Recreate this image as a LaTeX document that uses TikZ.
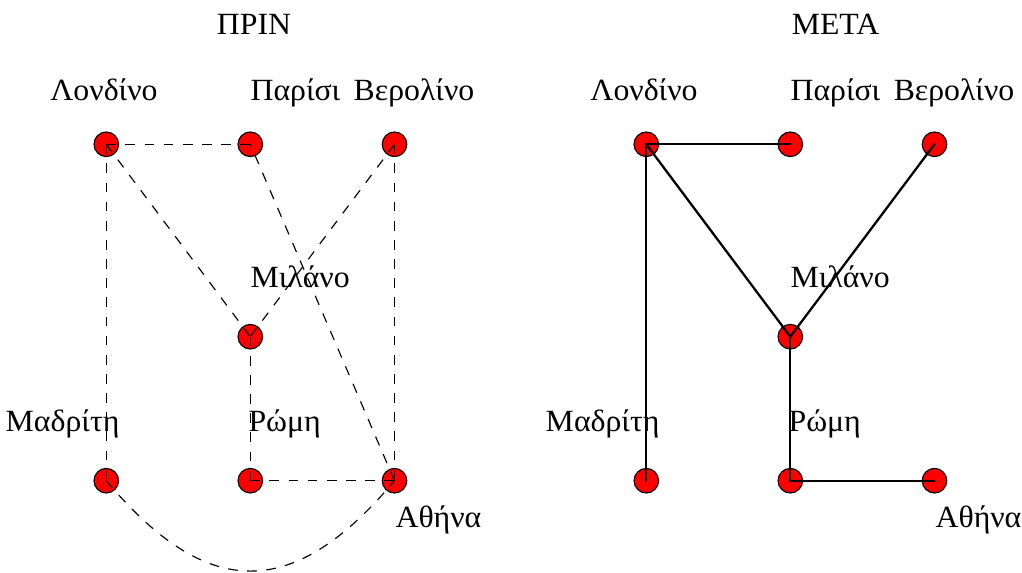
\documentclass[tikz,border=0pt]{standalone}
\usepackage{fontspec}
\setmainfont{Liberation Serif}[FakeStretch=1.03]
\begin{document}
\begin{tikzpicture}[x=0.35pt,y=0.35pt,
  city/.style={circle,draw=black,fill=red,line width=0.4pt,minimum size=8.6pt,inner sep=0pt},
  lbl/.style={inner sep=0pt,font=\fontsize{10.8}{12}\selectfont},
  before/.style={line width=0.4pt,dash pattern=on 3.4pt off 3.3pt},
  after/.style={line width=0.8pt,line cap=round}]
\useasboundingbox (0,0) rectangle (1022,-573);
% ---------- left graph (before)
\node[lbl,anchor=base] (t1) at (254,-35) {ΠΡΙΝ};
\node[city] (L1) at (106.3,-144.3) {};
\node[city] (P1) at (250.3,-144.3) {};
\node[city] (B1) at (394.5,-144.3) {};
\node[city] (Mi1) at (250.3,-336.7) {};
\node[city] (Ma1) at (106.3,-480.7) {};
\node[city] (R1) at (250.3,-480.7) {};
\node[city] (A1) at (394.5,-480.7) {};
\node[lbl,anchor=base] (lL1) at (104,-100.5) {Λονδίνο};
\node[lbl,anchor=base west] (lP1) at (250,-100.5) {Παρίσι};
\node[lbl,anchor=base] (lB1) at (414,-100.5) {Βερολίνο};
\node[lbl,anchor=base west] (lMi1) at (250,-288) {Μιλάνο};
\node[lbl,anchor=base east] (lMa1) at (120,-432) {Μαδρίτη};
\node[lbl,anchor=base west] (lR1) at (248,-432) {Ρώμη};
\node[lbl,anchor=base west] (lA1) at (395,-527.5) {Αθήνα};
\draw[before] (L1.center) -- (P1.center);
\draw[before] (L1.center) -- (Ma1.center);
\draw[before] (L1.center) -- (Mi1.center);
\draw[before] (A1.center) -- (P1.center);
\draw[before] (B1.center) -- (Mi1.center);
\draw[before] (B1.center) -- (A1.center);
\draw[before] (Mi1.center) -- (R1.center);
\draw[before] (R1.center) -- (A1.center);
\draw[before] (Ma1.center) to[out=-50,in=-130,looseness=1.4] (A1.center);
% ---------- right graph (after)
\node[lbl,anchor=base] (t2) at (835.5,-35) {ΜΕΤΑ};
\node[city] (L2) at (646.3,-144.3) {};
\node[city] (P2) at (790.3,-144.3) {};
\node[city] (B2) at (934.5,-144.3) {};
\node[city] (Mi2) at (790.3,-336.7) {};
\node[city] (Ma2) at (646.3,-480.7) {};
\node[city] (R2) at (790.3,-480.7) {};
\node[city] (A2) at (934.5,-480.7) {};
\node[lbl,anchor=base] (lL2) at (644,-100.5) {Λονδίνο};
\node[lbl,anchor=base west] (lP2) at (790,-100.5) {Παρίσι};
\node[lbl,anchor=base] (lB2) at (954,-100.5) {Βερολίνο};
\node[lbl,anchor=base west] (lMi2) at (790,-288) {Μιλάνο};
\node[lbl,anchor=base east] (lMa2) at (660,-432) {Μαδρίτη};
\node[lbl,anchor=base west] (lR2) at (788,-432) {Ρώμη};
\node[lbl,anchor=base west] (lA2) at (935,-527.5) {Αθήνα};
\draw[after] (L2.center) -- (P2.center);
\draw[after] (L2.center) -- (Ma2.center);
\draw[after] (L2.center) -- (Mi2.center);
\draw[after] (B2.center) -- (Mi2.center);
\draw[after] (Mi2.center) -- (R2.center);
\draw[after] (R2.center) -- (A2.center);
\end{tikzpicture}
\end{document}
